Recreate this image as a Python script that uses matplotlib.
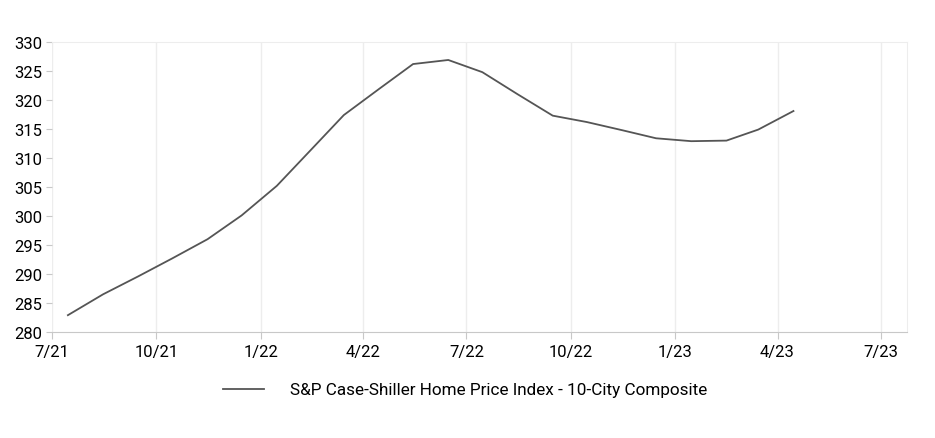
import matplotlib.pyplot as plt
import pandas as pd

# monthly index values, Jul 2021 - Apr 2023 (plotted mid-month)
months = pd.date_range("2021-07-01", periods=22, freq="MS") + pd.Timedelta(days=14)
index_10city = [282.9, 286.5, 289.6, 292.7, 296.0, 300.1, 305.2, 311.6,
                317.4, 321.9, 326.2, 326.9, 324.8, 321.0, 317.3, 316.2,
                314.8, 313.4, 312.9, 313.0, 314.9, 318.1]
tick_dates = pd.date_range("2021-07-01", "2023-07-01", freq="3MS")
tick_labels = ["7/21", "10/21", "1/22", "4/22", "7/22", "10/22", "1/23", "4/23", "7/23"]
series_name = "S&P Case-Shiller Home Price Index - 10-City Composite"

plt.rcParams["font.family"] = ["Roboto", "DejaVu Sans"]

fig = plt.figure(figsize=(9.35, 4.39), dpi=100)
ax = fig.add_axes([52 / 935, 1 - 333 / 439, 855 / 935, 290 / 439])

ax.plot(months, index_10city, color="#555555", lw=1.3, label=series_name)

ax.set_xlim(pd.Timestamp("2021-07-01"), pd.Timestamp("2023-07-24"))
ax.set_ylim(280, 330)
ax.set_yticks(range(280, 331, 5))
ax.set_xticks(tick_dates)
ax.set_xticklabels(tick_labels)
ax.grid(axis="x", color="#ededed", lw=1)
ax.set_axisbelow(True)

for s in ["top", "right"]:
    ax.spines[s].set_color("#ededed")
ax.spines["left"].set_visible(False)
ax.spines["bottom"].set_color("#c8c8c8")
ax.tick_params(axis="x", length=5, color="#c8c8c8", labelsize=12, pad=4)
ax.tick_params(axis="y", length=4, color="#c8c8c8", labelsize=12, pad=3)

fig.legend(loc="center", bbox_to_anchor=(465 / 935, 1 - 391 / 439), frameon=False,
           fontsize=12.3, handlelength=2.4, handletextpad=1.5)

fig.savefig("out.png", dpi=100)
